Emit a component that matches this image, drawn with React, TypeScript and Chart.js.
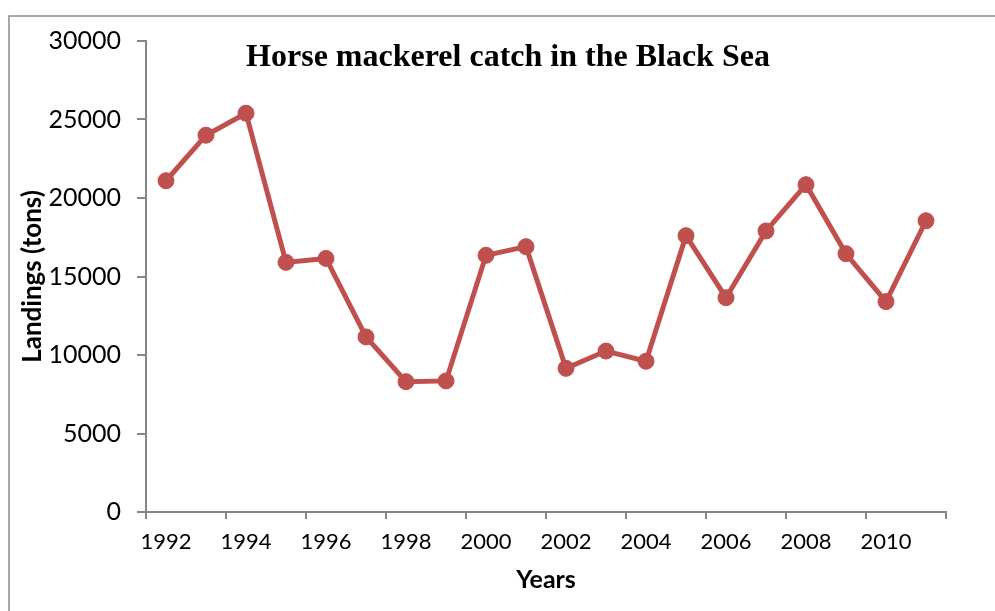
import React, { useEffect, useRef } from 'react';
import { Chart, registerables } from 'chart.js';

Chart.register(...registerables);

const years = ['1992', '1993', '1994', '1995', '1996', '1997', '1998', '1999', '2000', '2001', '2002', '2003', '2004', '2005', '2006', '2007', '2008', '2009', '2010', '2011'];
const landings = [21100, 24000, 25400, 15900, 16150, 11150, 8300, 8350, 16350, 16900, 9150, 10250, 9600, 17600, 13650, 17900, 20850, 16450, 13400, 18550];
const yMin = 0;
const yMax = 30000;
const yStep = 5000;
const chartTitle = 'Horse mackerel catch in the Black Sea';
const yTitle = 'Landings (tons)';
const xTitle = 'Years';

const RED = '#C0504D';
const GREY = '#868686';
const SANS = 'Lato, "Open Sans", sans-serif';

const framePlugin = {
  id: 'frame',
  beforeDraw(chart: any) {
    const { ctx, width, height } = chart;
    ctx.save();
    ctx.fillStyle = '#ffffff';
    ctx.fillRect(0, 0, width, height);
    ctx.strokeStyle = '#8c8c8c';
    ctx.lineWidth = 1.5;
    ctx.beginPath();
    ctx.moveTo(9, height + 2);
    ctx.lineTo(9, 16);
    ctx.lineTo(width + 2, 16);
    ctx.stroke();
    ctx.restore();
  },
};

const titlePlugin = {
  id: 'innerTitle',
  afterDraw(chart: any) {
    const { ctx, chartArea } = chart;
    ctx.save();
    ctx.font = 'bold 32px "Liberation Serif", "Times New Roman", serif';
    ctx.fillStyle = '#000000';
    ctx.textAlign = 'center';
    ctx.textBaseline = 'alphabetic';
    const x = chartArea.left + (chartArea.right - chartArea.left) * 0.4525;
    ctx.fillText(chartTitle, x, chartArea.top + 25);
    ctx.restore();
  },
};

export default function App() {
  const ref = useRef<HTMLCanvasElement | null>(null);

  useEffect(() => {
    if (!ref.current) return;
    const chart = new Chart(ref.current, {
      type: 'line',
      data: {
        labels: years,
        datasets: [
          {
            data: landings,
            borderColor: RED,
            backgroundColor: RED,
            borderWidth: 5,
            pointRadius: 8,
            pointBorderWidth: 1,
            pointBackgroundColor: RED,
            pointBorderColor: RED,
            tension: 0,
            clip: false as any,
          },
        ],
      },
      options: {
        responsive: false,
        animation: false,
        layout: { padding: { left: 0, top: 41, right: 49, bottom: 0 } },
        plugins: {
          legend: { display: false },
          title: { display: false },
          tooltip: { enabled: false },
        },
        scales: {
          x: {
            type: 'category',
            offset: true,
            afterFit(scale: any) {
              scale.height = 99;
            },
            grid: {
              offset: true,
              drawOnChartArea: false,
              drawTicks: true,
              tickLength: 7,
              lineWidth: 2,
              tickWidth: 2,
              color: (c: any) => (c.index === undefined || c.index % 2 === 0 ? GREY : 'rgba(0,0,0,0)'),
              tickColor: (c: any) => (c.index === undefined || c.index % 2 === 0 ? GREY : 'rgba(0,0,0,0)'),
            },
            border: { display: true, color: GREY, width: 2 },
            ticks: {
              autoSkip: false,
              maxRotation: 0,
              minRotation: 0,
              padding: 10,
              color: '#000000',
              font: { family: SANS, size: 22 },
              callback: (_v: any, i: number) => (i % 2 === 0 ? years[i] : ''),
            },
            title: {
              display: true,
              text: xTitle,
              color: '#000000',
              font: { family: SANS, size: 25, weight: 'bold' },
              padding: { top: 0, bottom: 16 },
            },
          },
          y: {
            min: yMin,
            max: yMax,
            afterFit(scale: any) {
              scale.width = 146;
            },
            grid: {
              drawOnChartArea: false,
              drawTicks: true,
              tickLength: 9,
              color: GREY,
              tickColor: GREY,
              lineWidth: 2,
              tickWidth: 2,
            },
            border: { display: true, color: GREY, width: 2 },
            ticks: {
              stepSize: yStep,
              padding: 16,
              color: '#000000',
              font: { family: SANS, size: 25 },
              callback: (v: any) => String(v),
            },
            title: {
              display: true,
              text: yTitle,
              color: '#000000',
              font: { family: SANS, size: 26, weight: 'bold' },
              padding: { top: 17, bottom: 0 },
            },
          },
        },
      },
      plugins: [framePlugin, titlePlugin],
    } as any);
    return () => chart.destroy();
  }, []);

  return (
    <div style={{ position: 'absolute', left: 0, top: 0, width: 995, height: 611, background: '#fff' }}>
      <canvas ref={ref} width={995} height={611} style={{ width: 995, height: 611, display: 'block' }} />
    </div>
  );
}
